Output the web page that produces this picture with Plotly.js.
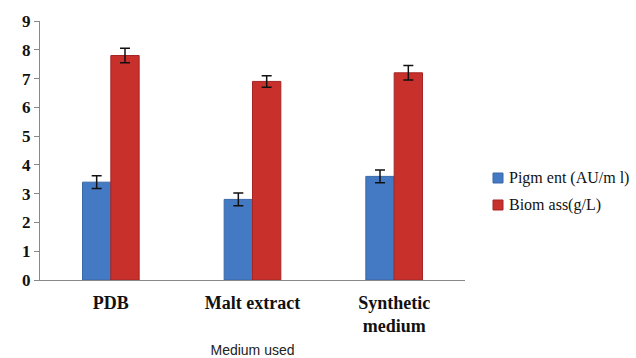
<!DOCTYPE html>
<html><head><meta charset="utf-8">
<script src="https://cdn.plot.ly/plotly-3.0.1.min.js"></script>
<style>html,body{margin:0;padding:0;background:#fff}#c{width:636px;height:358px}</style>
</head><body><div id="c"></div>
<script>
const categories = ["<b>PDB</b>", "<b>Malt extract</b>", "<b>Synthetic</b><br><b>medium</b>"];
const pigment = [3.4, 2.8, 3.6];
const pigmentErr = [0.22, 0.22, 0.22];
const biomass = [7.8, 6.9, 7.2];
const biomassErr = [0.25, 0.2, 0.25];
const seriesNames = ["Pigm ent (AU/m l)", "Biom ass(g/L)"];
const seriesColors = ["#4479c4", "#c8302c"];
const seriesEdges = ["#3a68a8", "#a52522"];
const SERIF = "'Liberation Serif', 'Times New Roman', 'DejaVu Serif', serif";

const traces = [
  {type:"bar", x:categories, y:pigment, name:seriesNames[0],
   marker:{color:seriesColors[0], line:{color:seriesEdges[0], width:1}},
   error_y:{type:"data", array:pigmentErr, visible:true, color:"#111", thickness:1.5, width:5}},
  {type:"bar", x:categories, y:biomass, name:seriesNames[1],
   marker:{color:seriesColors[1], line:{color:seriesEdges[1], width:1}},
   error_y:{type:"data", array:biomassErr, visible:true, color:"#111", thickness:1.5, width:5}}
];

// legend drawn manually (pixel layout -> paper coords)
const L = 40, R = 465, B = 280, T = 21;
const px = v => (v - L) / (R - L);
const py = v => (B - v) / (B - T);
const legendRows = [178, 205];
const shapes = [], annotations = [];
seriesNames.forEach((n, i) => {
  const cy = legendRows[i];
  shapes.push({type:"rect", xref:"paper", yref:"paper",
    x0:px(493), x1:px(503), y0:py(cy + 5), y1:py(cy - 5),
    fillcolor:seriesColors[i], line:{color:seriesEdges[i], width:1}});
  annotations.push({xref:"paper", yref:"paper", x:px(507), y:py(cy), xanchor:"left", yanchor:"middle",
    text:n, showarrow:false, font:{family:SERIF, size:16, color:"#111"}});
});

const layout = {
  width:636, height:358,
  margin:{l:L, r:636 - R, t:T, b:358 - B, autoexpand:false},
  paper_bgcolor:"#fff", plot_bgcolor:"#fff",
  barmode:"group", bargap:0.6, bargroupgap:0,
  showlegend:false,
  shapes:shapes, annotations:annotations,
  xaxis:{showline:true, linecolor:"#888", linewidth:1, ticks:"", showgrid:false,
         ticklabelstandoff:6,
         tickfont:{family:SERIF, size:18, color:"#111"},
         title:{text:"Medium used", font:{family:"'Liberation Sans', Arial, sans-serif", size:14, color:"#222"}, standoff:14}},
  yaxis:{range:[0,9], dtick:1, showline:true, linecolor:"#888", linewidth:1,
         ticks:"outside", ticklen:5, tickcolor:"#888", showgrid:false, zeroline:false,
         tickfont:{family:SERIF, size:17, color:"#111"},
         tickprefix:"<b>", ticksuffix:"</b>"}
};
Plotly.newPlot("c", traces, layout, {displayModeBar:false, staticPlot:true});
</script></body></html>
